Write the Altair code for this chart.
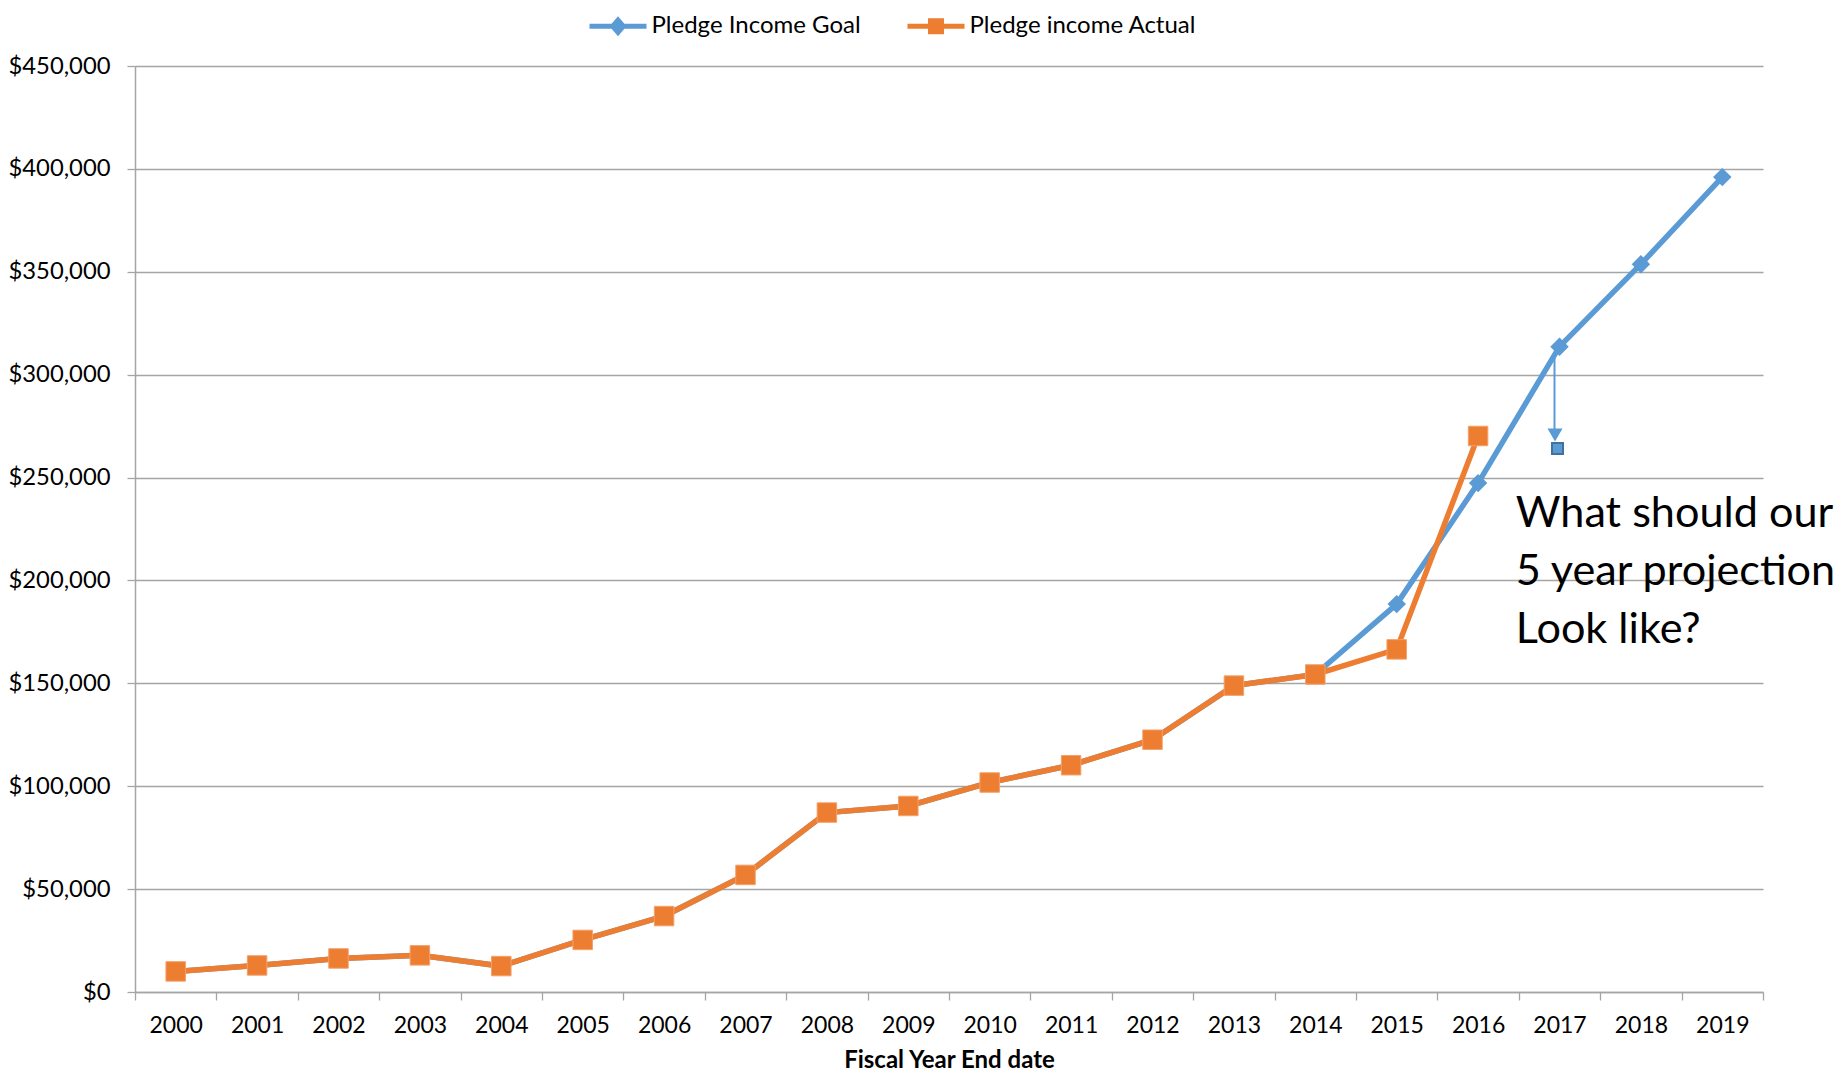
import altair as alt
import pandas as pd

# ---------------- data ----------------
years = ["2000", "2001", "2002", "2003", "2004", "2005", "2006", "2007", "2008", "2009",
         "2010", "2011", "2012", "2013", "2014", "2015", "2016", "2017", "2018", "2019"]
goal = [10000, 12900, 16300, 17800, 12600, 25300, 36900, 56900, 87200, 90400,
        101800, 110200, 122600, 148900, 154300, 188500, 247300, 313600, 353700, 396000]
actual = [10000, 12900, 16300, 17800, 12600, 25300, 36900, 56900, 87200, 90400,
          101800, 110200, 122600, 148900, 154300, 166500, 270200, None, None, None]
series_names = ["Pledge Income Goal", "Pledge income Actual"]
series_colors = ["#5B9BD5", "#ED7D31"]
y_ticks = [0, 50000, 100000, 150000, 200000, 250000, 300000, 350000, 400000, 450000]

note_text = "What should our\n5 year projection\nLook like?"
note_year = "2017"
note_value = 226100
arrow_year = "2017"
arrow_from = 308800
arrow_to = 270700
arrow_box = 264150

# legend glyphs: line segment with marker (normalised to [-1, 1])
goal_glyph = "M-1,-0.09L1,-0.09L1,0.09L-1,0.09Z M-0.3,0L0,-0.35L0.3,0L0,0.35Z"
actual_glyph = "M-1,-0.09L1,-0.09L1,0.09L-1,0.09Z M-0.28,-0.28L0.28,-0.28L0.28,0.28L-0.28,0.28Z"

BLUE, ORANGE = series_colors
FONT = "Lato"
GRID = "#A5A5A5"

df_goal = pd.DataFrame({"year": years, "value": goal, "series": series_names[0]})
df_actual = pd.DataFrame({"year": years, "value": actual, "series": series_names[1]}).dropna()
df_legend = pd.DataFrame({"series": series_names})
df_note = pd.DataFrame({"year": [note_year], "value": [note_value], "label": [note_text]})
df_arrow = pd.DataFrame({"year": [arrow_year], "value": [arrow_from], "value2": [arrow_to]})
df_head = pd.DataFrame({"year": [arrow_year], "value": [arrow_to]})
df_box = pd.DataFrame({"year": [arrow_year], "value": [arrow_box]})

x_scale = alt.Scale(type="band", domain=years, paddingInner=0, paddingOuter=0)
x_axis = alt.Axis(
    title="Fiscal Year End date", tickBand="extent", grid=False,
    labelFont=FONT, labelFontSize=23, labelColor="black", labelAngle=0,
    labelPadding=14, tickSize=8,
    titleFont=FONT, titleFontSize=24, titleFontWeight="bold", titleColor="black",
    titleBaseline="alphabetic", titleY=75,
)
y_scale = alt.Scale(domain=[0, 450000], nice=False, zero=True)
y_axis = alt.Axis(
    title=None, values=y_ticks, format="$,.0f", grid=True,
    labelFont=FONT, labelFontSize=23.8, labelColor="black", labelPadding=17, tickSize=8,
)

X = alt.X("year:N", scale=x_scale, axis=x_axis, sort=years)
Y = alt.Y("value:Q", scale=y_scale, axis=y_axis)

goal_line = alt.Chart(df_goal).mark_line(color=BLUE, strokeWidth=5.5).encode(x=X, y=Y)
goal_pts = alt.Chart(df_goal).mark_point(
    shape="diamond", filled=True, size=340, color=BLUE, opacity=1
).encode(x=X, y=Y)
act_line = alt.Chart(df_actual).mark_line(color=ORANGE, strokeWidth=5.5).encode(x=X, y=Y)
act_pts = alt.Chart(df_actual).mark_point(
    shape="square", filled=True, size=380, fill=ORANGE, stroke="#F4A06A", strokeWidth=1, opacity=1
).encode(x=X, y=Y)

legend = alt.Legend(
    title=None, orient="none", legendX=454.5, legendY=-68.5, direction="horizontal",
    labelFont=FONT, labelFontSize=24, labelColor="black", labelOffset=5, labelLimit=500,
    symbolSize=3249, symbolStrokeWidth=0, symbolOpacity=1, columnPadding=46, padding=0,
)
legend_layer = alt.Chart(df_legend).mark_point(filled=True, opacity=0).encode(
    shape=alt.Shape("series:N", scale=alt.Scale(domain=series_names, range=[goal_glyph, actual_glyph]),
                    legend=legend),
    color=alt.Color("series:N", scale=alt.Scale(domain=series_names, range=series_colors),
                    legend=legend),
)

arrow = alt.Chart(df_arrow).mark_rule(color=BLUE, strokeWidth=2, xOffset=-5).encode(
    x=X, y=Y, y2="value2:Q")
head = alt.Chart(df_head).mark_point(
    shape="triangle-down", filled=True, size=225, color=BLUE, opacity=1, xOffset=-4.5
).encode(x=X, y=Y)
box = alt.Chart(df_box).mark_point(
    shape="square", filled=True, size=121, fill=BLUE, stroke="#41719C", strokeWidth=2,
    opacity=1, xOffset=-2
).encode(x=X, y=Y)
note = alt.Chart(df_note).mark_text(
    align="left", baseline="alphabetic", lineBreak="\n", lineHeight=58,
    font=FONT, fontSize=43.2, color="black", dx=-3
).encode(x=alt.X("year:N", scale=x_scale, axis=x_axis, sort=years, bandPosition=0), y=Y, text="label:N")

chart = alt.layer(
    goal_line, goal_pts, act_line, act_pts, arrow, head, box, note, legend_layer
).properties(
    width=1628, height=926,
    autosize=alt.AutoSizeParams(type="none"),
    padding={"left": 127, "top": 58, "right": 74, "bottom": 81},
).configure_view(
    strokeWidth=0
).configure_axis(
    domainColor=GRID, gridColor=GRID, tickColor=GRID, domainWidth=1.5, gridWidth=1.3, tickWidth=1.3
)

chart.save("out.html", embed_options={"renderer": "svg", "actions": False})
